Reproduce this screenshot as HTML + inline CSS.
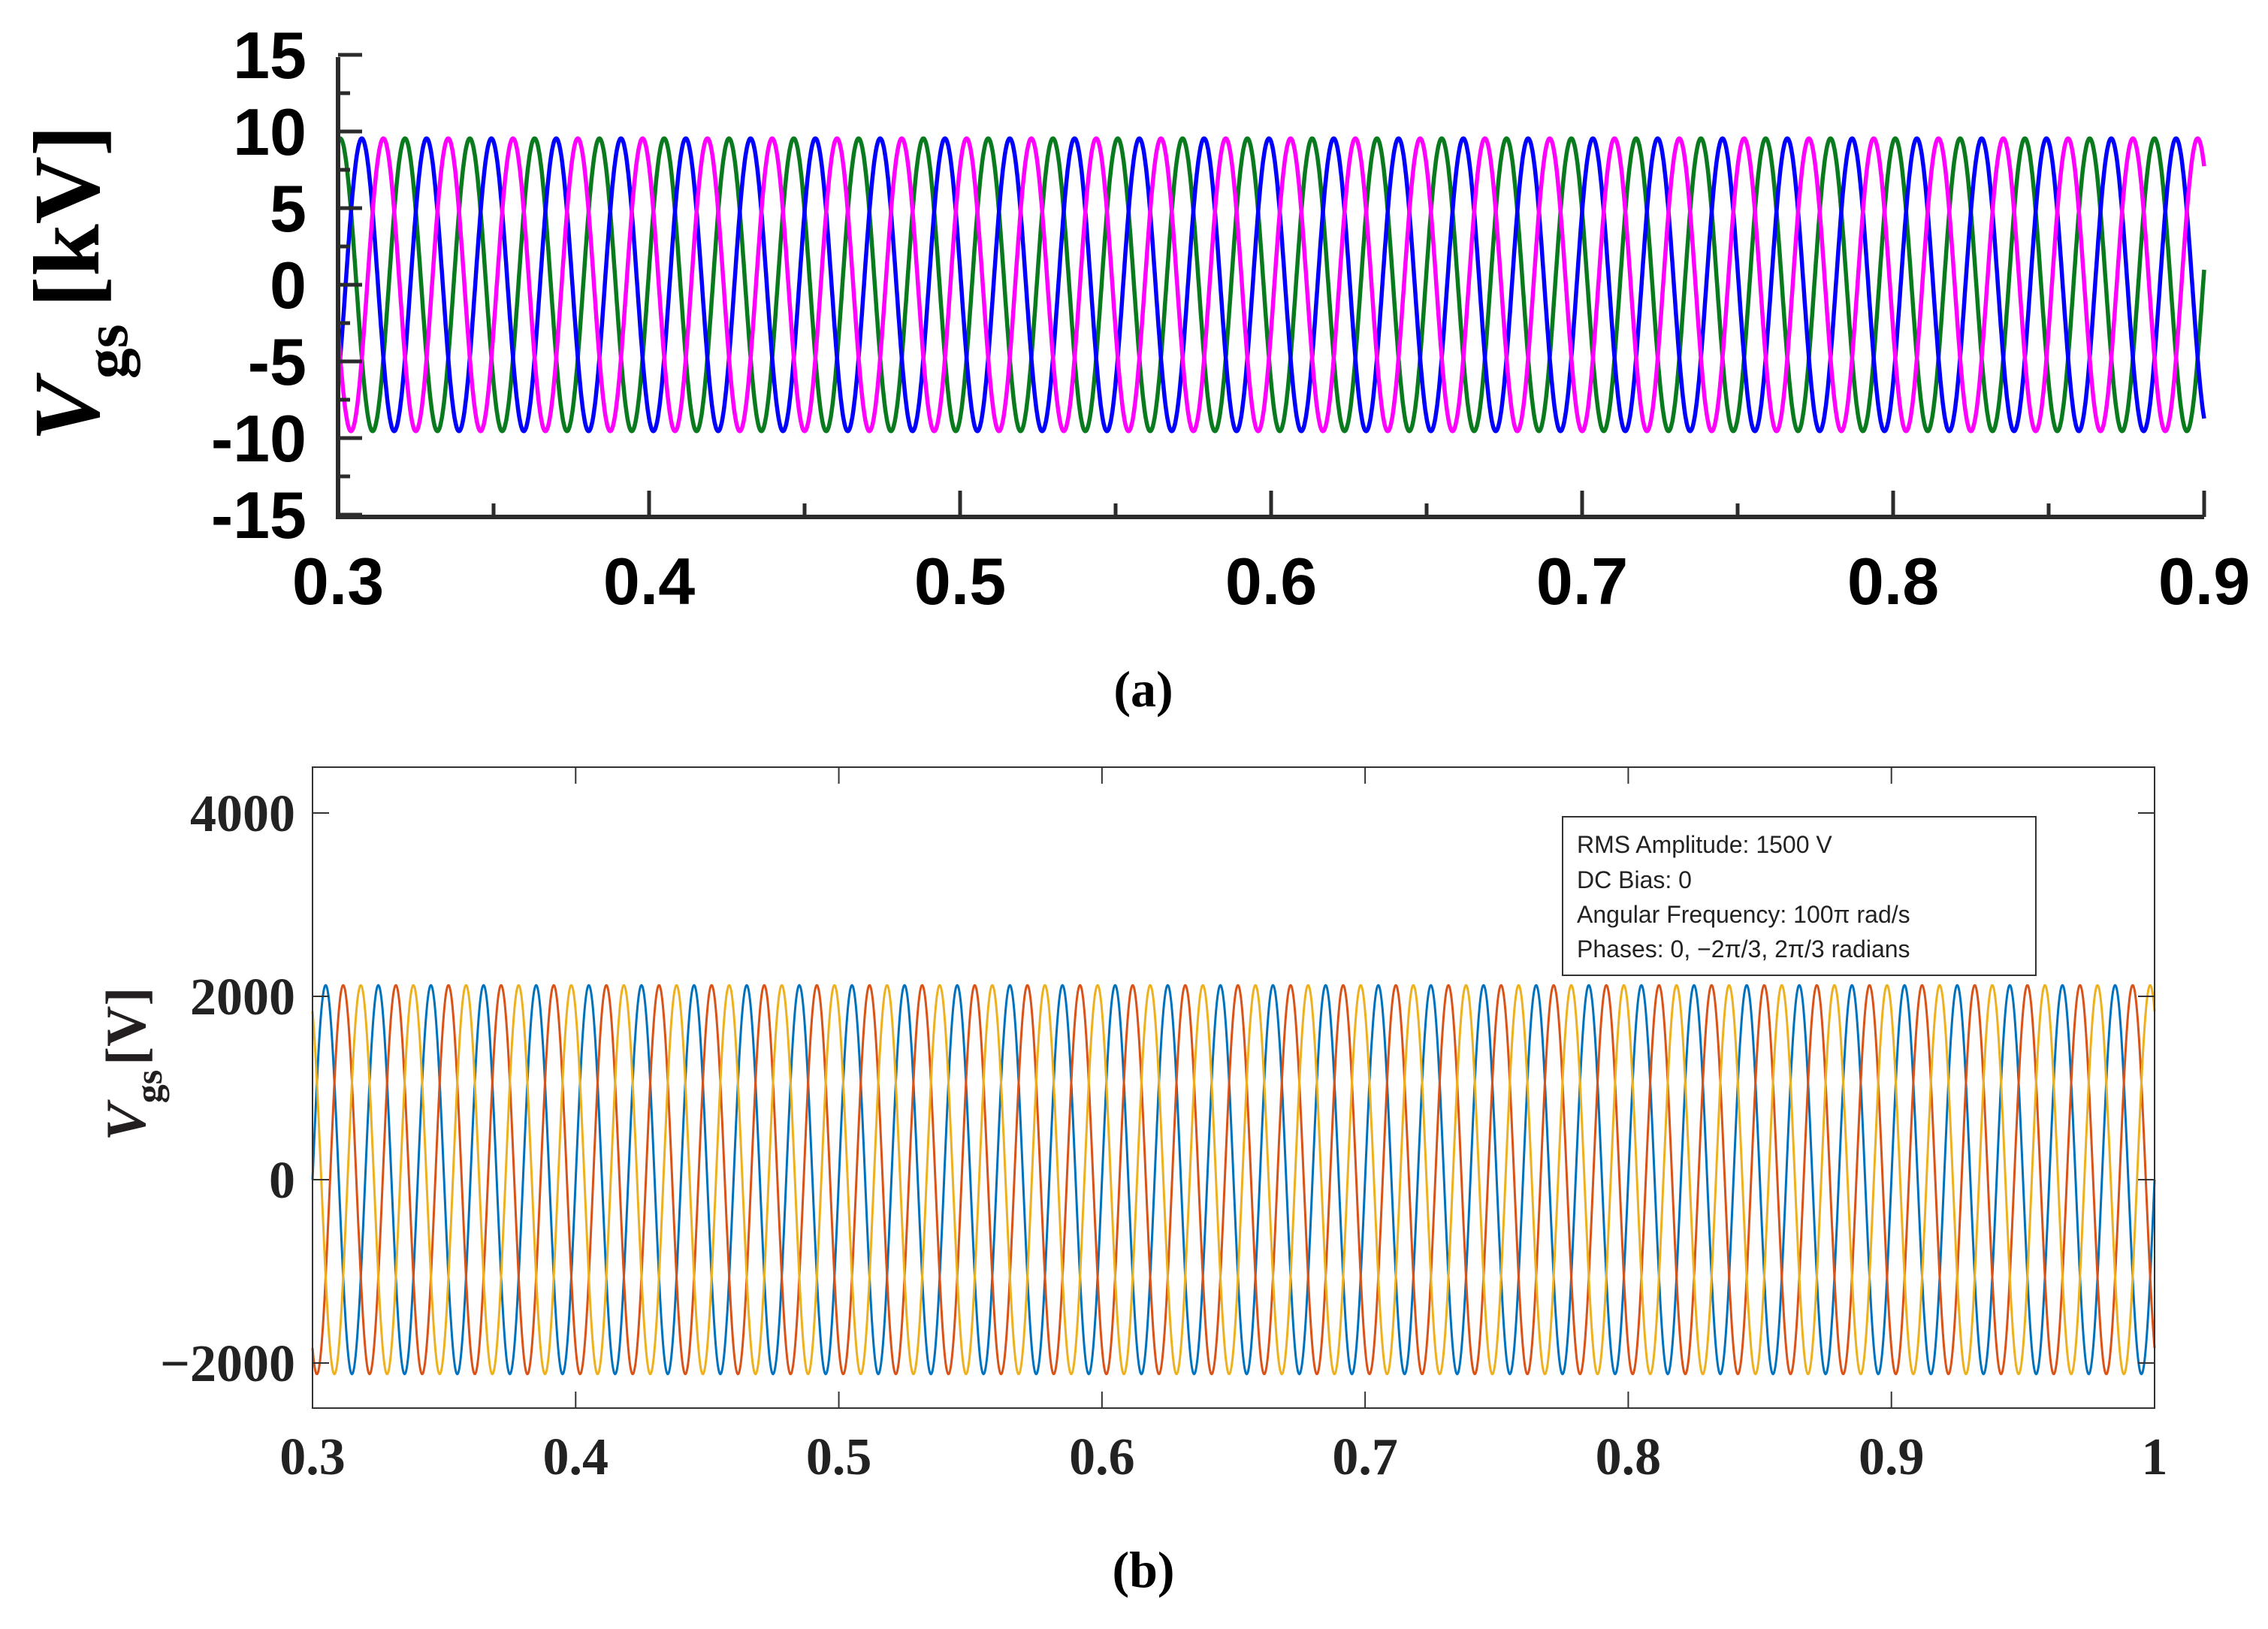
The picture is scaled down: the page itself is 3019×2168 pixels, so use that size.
<!DOCTYPE html>
<html><head><meta charset="utf-8"><style>
html,body{margin:0;padding:0;background:#fff;}
svg{display:block;}
</style></head><body>
<svg id="fig" width="3019" height="2168" viewBox="0 0 3019 2168" xmlns="http://www.w3.org/2000/svg">
<rect width="3019" height="2168" fill="#fff"/>
<g id="panelA"></g>
<g id="panelB"></g>
<text x="1522" y="940" font-family="Liberation Serif, serif" font-weight="bold" font-size="68" text-anchor="middle">(a)</text>
<text x="1522" y="2112" font-family="Liberation Serif, serif" font-weight="bold" font-size="68" text-anchor="middle">(b)</text>
</svg>
<script>
// ---- Panel (a) data ----
const aXTicks = [0.3, 0.4, 0.5, 0.6, 0.7, 0.8, 0.9];
const aXTickLabels = ["0.3", "0.4", "0.5", "0.6", "0.7", "0.8", "0.9"];
const aYTicks = [15, 10, 5, 0, -5, -10, -15];
const aYTickLabels = ["15", "10", "5", "0", "-5", "-10", "-15"];
const aSeriesNames = ["phase-green", "phase-blue", "phase-magenta"];
const aAmplitudes = [9.55, 9.55, 9.55];      // kV peak
const aFrequency = [48, 48, 48];              // Hz
const aPeakTimes = [0.3007, 0.30764, 0.31459]; // time of first peak (s)
const aColors = ["#0a7a1e", "#0000ff", "#ff00ff"];

// ---- Panel (b) data ----
const bXTicks = [0.3, 0.4, 0.5, 0.6, 0.7, 0.8, 0.9, 1.0];
const bXTickLabels = ["0.3", "0.4", "0.5", "0.6", "0.7", "0.8", "0.9", "1"];
const bYTicks = [4000, 2000, 0, -2000];
const bYTickLabels = ["4000", "2000", "0", "\u22122000"];
const bSeriesNames = ["phase-0", "phase-minus-2pi-3", "phase-plus-2pi-3"];
const bRms = [1500, 1500, 1500];
const bOmega = [100 * Math.PI, 100 * Math.PI, 100 * Math.PI];
const bPhases = [0, -2 * Math.PI / 3, 2 * Math.PI / 3];
const bColors = ["#0072BD", "#D95319", "#EDB120"];

const NS = "http://www.w3.org/2000/svg";
function mk(tag, attrs, parent) {
  const e = document.createElementNS(NS, tag);
  for (const k in attrs) e.setAttribute(k, attrs[k]);
  parent.appendChild(e);
  return e;
}

// ================= Panel A =================
(function () {
  const g = document.getElementById('panelA');
  const x0 = 450, x1 = 2934, y0 = 688, y1 = 76;
  const xs = t => x0 + (t - 0.3) / 0.6 * (x1 - x0);
  const ys = v => 379 - v * 20.4;
  const FONT = "Liberation Sans, Arial, sans-serif";
  for (let s = 0; s < aSeriesNames.length; s++) {
    let d = "";
    for (let t = 0.3; t <= 0.9 + 1e-9; t += 0.0002) {
      const v = aAmplitudes[s] * Math.cos(2 * Math.PI * aFrequency[s] * (t - aPeakTimes[s]));
      d += (d ? "L" : "M") + xs(t).toFixed(1) + "," + ys(v).toFixed(1);
    }
    const p = mk('path', { d: d, fill: 'none', stroke: aColors[s], 'stroke-width': 5.5, 'stroke-linejoin': 'round' }, g);
    
    
  }
  const ax = mk('path', { d: `M${x0},${y1} L${x0},${y0} L${x1},${y0}`, fill: 'none', stroke: '#2b2b2b', 'stroke-width': 6 }, g);
  
  
  for (let v = -15; v <= 15; v += 2.5) {
    const major = Math.abs(v % 5) < 1e-9;
    const tk = mk('line', { x1: x0, x2: x0 + (major ? 32 : 16), y1: ys(v), y2: ys(v), stroke: '#2b2b2b', 'stroke-width': 5 }, g);
    
    
  }
  for (let i = 0; i < aYTicks.length; i++) {
    const t = mk('text', { x: 408, y: ys(aYTicks[i]) + 31, 'text-anchor': 'end', 'font-family': FONT, 'font-weight': 'bold', 'font-size': 88, fill: '#000' }, g);
    t.textContent = aYTickLabels[i];
    
    
  }
  for (let k = 0; k <= 12; k++) {
    const tv = 0.3 + k * 0.05;
    const major = k % 2 === 0;
    const tk = mk('line', { x1: xs(tv), x2: xs(tv), y1: y0, y2: y0 - (major ? 35 : 18), stroke: '#2b2b2b', 'stroke-width': 5 }, g);
    
    
  }
  for (let i = 0; i < aXTicks.length; i++) {
    const t = mk('text', { x: xs(aXTicks[i]), y: 804, 'text-anchor': 'middle', 'font-family': FONT, 'font-weight': 'bold', 'font-size': 88, fill: '#000' }, g);
    t.textContent = aXTickLabels[i];
    
    
  }
  const yt = mk('text', { transform: 'translate(131,377) rotate(-90)', 'text-anchor': 'middle', 'font-family': 'Liberation Serif, serif', 'font-weight': 'bold', 'font-size': 125, fill: '#000' }, g);
  
  
  yt.innerHTML = '<tspan font-style="italic">V</tspan><tspan font-size="82" dy="38">gs</tspan><tspan dy="-38" dx="22">[kV]</tspan>';
})();

// ================= Panel B =================
(function () {
  const g = document.getElementById('panelB');
  const L = 416, R = 2868, T = 1021, B = 1874;
  const xs = t => L + (t - 0.3) / 0.7 * (R - L);
  const ys = v => 1570 - v * 0.122;
  const FONT = "Liberation Serif, serif";
  for (let s = 0; s < bSeriesNames.length; s++) {
    let d = "";
    const amp = bRms[s] * Math.SQRT2;
    for (let t = 0.3; t <= 1.0 + 1e-9; t += 0.0002) {
      const v = amp * Math.sin(bOmega[s] * t + bPhases[s]);
      d += (d ? "L" : "M") + xs(t).toFixed(1) + "," + ys(v).toFixed(1);
    }
    const p = mk('path', { d: d, fill: 'none', stroke: bColors[s], 'stroke-width': 3, 'stroke-linejoin': 'round' }, g);
    
    
  }
  const box = mk('rect', { x: L, y: T, width: R - L, height: B - T, fill: 'none', stroke: '#333', 'stroke-width': 2 }, g);
  
  
  for (let i = 0; i < bYTicks.length; i++) {
    const y = ys(bYTicks[i]);
    const a = mk('line', { x1: L, x2: L + 22, y1: y, y2: y, stroke: '#333', 'stroke-width': 2 }, g);
    
    
    const b = mk('line', { x1: R, x2: R - 22, y1: y, y2: y, stroke: '#333', 'stroke-width': 2 }, g);
    
    
    const t = mk('text', { x: 393, y: y + 24, 'text-anchor': 'end', 'font-family': FONT, 'font-weight': 'bold', 'font-size': 70, fill: '#222' }, g);
    t.textContent = bYTickLabels[i];
    
    
  }
  for (let i = 0; i < bXTicks.length; i++) {
    const x = xs(bXTicks[i]);
    const a = mk('line', { x1: x, x2: x, y1: B, y2: B - 22, stroke: '#333', 'stroke-width': 2 }, g);
    
    
    const b = mk('line', { x1: x, x2: x, y1: T, y2: T + 22, stroke: '#333', 'stroke-width': 2 }, g);
    
    
    const t = mk('text', { x: x, y: 1962, 'text-anchor': 'middle', 'font-family': FONT, 'font-weight': 'bold', 'font-size': 70, fill: '#222' }, g);
    t.textContent = bXTickLabels[i];
    
    
  }
  const yt = mk('text', { transform: 'translate(193,1416) rotate(-90)', 'text-anchor': 'middle', 'font-family': FONT, 'font-weight': 'bold', 'font-size': 75, fill: '#231f20' }, g);
  
  
  yt.innerHTML = '<tspan font-style="italic">V</tspan><tspan font-size="50" dy="22">gs</tspan><tspan dy="-22" dx="6">[V]</tspan>';
  const lg = mk('g', {}, g);
  
  
  mk('rect', { x: 2080, y: 1087, width: 630, height: 211, fill: '#fff', stroke: '#333', 'stroke-width': 2 }, lg);
  const lines = ["RMS Amplitude: 1500 V", "DC Bias: 0", "Angular Frequency: 100\u03c0 rad/s", "Phases: 0, \u22122\u03c0/3, 2\u03c0/3 radians"];
  const bl = [1135, 1182, 1228, 1274];
  for (let i = 0; i < lines.length; i++) {
    const t = mk('text', { x: 2099, y: bl[i], 'font-family': 'Liberation Sans, Arial, sans-serif', 'font-size': 32, fill: '#222' }, lg);
    t.textContent = lines[i];
    
    
  }
})();
</script>
</body></html>
